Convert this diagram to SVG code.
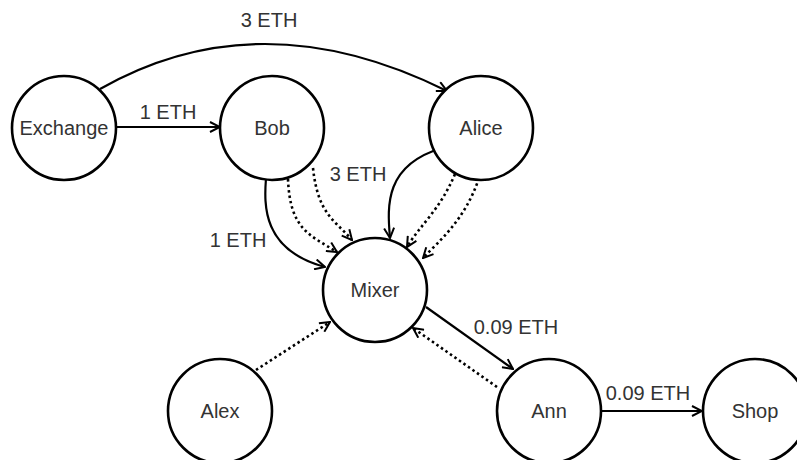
<svg xmlns="http://www.w3.org/2000/svg" width="797" height="460" viewBox="0 0 797 460">
  <style>
    .node circle { fill: #fff; stroke: #000; stroke-width: 2.6; }
    text { font-family: "Liberation Sans", Arial, sans-serif; font-size: 20px; fill: #333; text-anchor: middle; dominant-baseline: central; }
    .edge { fill: none; stroke: #000; stroke-width: 2.2; marker-end: url(#arrow); }
    .dot { stroke-dasharray: 2.5 3; stroke-width: 2.6; }
  </style>
  <defs>
    <marker id="arrow" viewBox="0 0 12 12" refX="11" refY="6" markerWidth="12" markerHeight="12" markerUnits="userSpaceOnUse" orient="auto">
      <path d="M1,1 L11,6 L1,11" fill="none" stroke="#000" stroke-width="2"/>
    </marker>
  </defs>

  <g id="connectors">
    <path class="edge" d="M116,127 L220,127"/>
    <path class="edge" d="M100,89 Q260,-2 447,91"/>
    <path class="edge" d="M266,178 C264,205 262,250 325,267"/>
    <path class="edge dot" d="M288,179 C290,230 310,235 337,252"/>
    <path class="edge dot" d="M313,168 C318,215 335,220 352,240"/>
    <path class="edge" d="M442,148 C385,165 387,205 390,238"/>
    <path class="edge dot" d="M455,174 C440,210 420,225 407,247"/>
    <path class="edge dot" d="M479,178 C465,220 440,240 423,258"/>
    <path class="edge dot" d="M256,370 L330,322"/>
    <path class="edge" d="M426,307 L513,369"/>
    <path class="edge dot" d="M497,387 L413,328"/>
    <path class="edge" d="M600,411 L702,411"/>
  </g>

  <g id="labels">
    <text x="269" y="20">3 ETH</text>
    <text x="168" y="112">1 ETH</text>
    <text x="238" y="240">1 ETH</text>
    <text x="358" y="174">3 ETH</text>
    <text x="516" y="327">0.09 ETH</text>
    <text x="648" y="393">0.09 ETH</text>
  </g>

  <g id="node-exchange" class="node"><circle cx="64" cy="128" r="52"/><text x="64" y="128">Exchange</text></g>
  <g id="node-bob" class="node"><circle cx="272" cy="128" r="52"/><text x="272" y="128">Bob</text></g>
  <g id="node-alice" class="node"><circle cx="481" cy="128" r="52"/><text x="481" y="128">Alice</text></g>
  <g id="node-mixer" class="node"><circle cx="375" cy="290" r="52"/><text x="375" y="290">Mixer</text></g>
  <g id="node-alex" class="node"><circle cx="220" cy="411" r="52"/><text x="220" y="411">Alex</text></g>
  <g id="node-ann" class="node"><circle cx="549" cy="411" r="52"/><text x="549" y="411">Ann</text></g>
  <g id="node-shop" class="node"><circle cx="755" cy="411" r="52"/><text x="755" y="411">Shop</text></g>
</svg>
